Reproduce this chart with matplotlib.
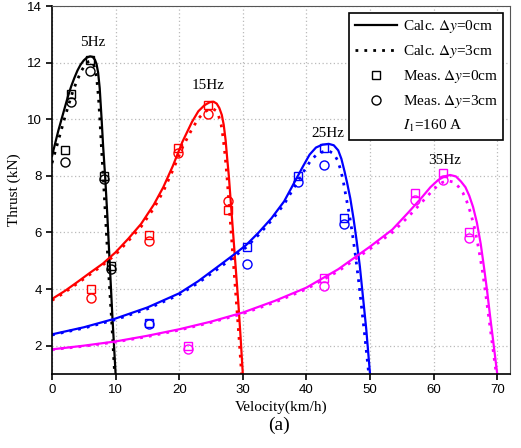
import numpy as np
import matplotlib
matplotlib.use("Agg")
import matplotlib.pyplot as plt
from matplotlib.lines import Line2D

plt.rcParams['font.family'] = ['Liberation Serif', 'DejaVu Serif']
plt.rcParams['mathtext.fontset'] = 'stix'

colors = ['k', '#ff0000', '#0000ff', '#ff00ff']
freq_labels = ['5Hz', '15Hz', '25Hz', '35Hz']
label_pos = [(6.4, 12.7), (24.6, 11.2), (43.3, 9.5), (61.8, 8.55)]

# calculated thrust, dy = 0cm
v_c0 = [
    [0, 0.5, 1, 1.5, 2, 2.5, 3, 3.5, 4, 4.5, 5, 5.5, 6.0, 6.4, 6.75, 7.0, 7.25, 7.5, 7.8,
     8.05, 8.35, 8.7, 9.1, 9.5, 10.0],
    [0, 2, 4, 6, 8, 10, 12, 14, 16, 17.5, 19, 20.5, 22, 23, 24, 24.8, 25.4, 25.9, 26.3,
     26.7, 27.0, 27.3, 27.55, 27.8, 28.3, 28.8, 29.3, 29.65, 30.0],
    [0, 5, 10, 15, 20, 23, 26, 28.5, 30.5, 32.5, 34.5, 36.5, 38.3, 39.5, 40.5, 41.5, 42.5,
     43.5, 44.3, 45.0, 45.5, 46.0, 46.4, 46.9, 47.4, 47.9, 48.4, 48.9, 49.4, 50.0],
    [0, 5, 10, 15, 20, 25, 30, 35, 40, 45, 50, 53.5, 56, 58, 59.5, 60.7, 61.7, 62.6, 63.5,
     64.3, 65.0, 65.6, 66.2, 66.8, 67.4, 67.9, 68.4, 68.9, 69.4, 70.0],
]
t_c0 = [
    [8.7, 9.15, 9.6, 10.0, 10.4, 10.8, 11.15, 11.45, 11.72, 11.93, 12.08, 12.18, 12.22,
     12.2, 12.1, 11.95, 11.65, 11.1, 10.0, 9.0, 8.0, 6.6, 4.8, 3.0, 1.0],
    [3.65, 3.93, 4.25, 4.58, 4.9, 5.3, 5.78, 6.3, 6.98, 7.6, 8.35, 9.2, 9.9, 10.28, 10.5,
     10.6, 10.62, 10.55, 10.4, 10.15, 9.8, 9.25, 8.6, 8.0, 6.5, 5.0, 3.5, 2.3, 1.0],
    [2.4, 2.65, 2.96, 3.35, 3.85, 4.28, 4.78, 5.2, 5.55, 6.0, 6.5, 7.1, 7.85, 8.35, 8.75,
     9.0, 9.1, 9.13, 9.08, 8.9, 8.6, 8.15, 7.75, 7.2, 6.5, 5.7, 4.8, 3.7, 2.6, 1.0],
    [1.87, 2.0, 2.15, 2.35, 2.58, 2.85, 3.17, 3.58, 4.05, 4.7, 5.5, 6.1, 6.7, 7.2, 7.6,
     7.85, 7.98, 8.03, 7.98, 7.8, 7.6, 7.3, 6.9, 6.35, 5.6, 4.8, 3.95, 3.0, 2.1, 1.0],
]

# calculated thrust, dy = 3cm
v_c3 = [
    [0, 0.5, 1, 1.5, 2, 2.6, 3.3, 4.0, 4.6, 5.2, 5.7, 6.1, 6.5, 6.8, 7.05, 7.3, 7.5, 7.75,
     8.05, 8.45, 8.9, 9.4, 9.85],
    [0, 2, 4, 6, 8, 10, 12, 14, 16, 17.5, 19, 20.5, 22, 23, 24, 24.8, 25.3, 25.8, 26.2,
     26.6, 26.9, 27.2, 27.5, 28.0, 28.5, 29.0, 29.4, 29.8],
    [0, 5, 10, 15, 20, 23, 26, 28.5, 30.5, 32.5, 34.5, 36.5, 38.5, 39.7, 40.7, 41.7, 42.7,
     43.6, 44.3, 44.9, 45.4, 45.8, 46.2, 46.7, 47.2, 47.7, 48.2, 48.7, 49.2, 49.8],
    [0, 5, 10, 15, 20, 25, 30, 35, 40, 45, 50, 53.5, 56, 58, 59.5, 60.6, 61.4, 62.2, 63.1,
     63.9, 64.6, 65.2, 65.8, 66.5, 67.1, 67.7, 68.2, 68.7, 69.2, 69.85],
]
t_c3 = [
    [8.45, 8.85, 9.25, 9.65, 10.05, 10.5, 11.0, 11.4, 11.7, 11.92, 12.03, 12.05, 11.95,
     11.75, 11.4, 10.8, 10.1, 9.1, 8.0, 6.4, 4.6, 2.8, 1.0],
    [3.6, 3.88, 4.2, 4.52, 4.85, 5.22, 5.7, 6.2, 6.85, 7.45, 8.2, 9.0, 9.65, 10.02, 10.26,
     10.36, 10.37, 10.3, 10.12, 9.8, 9.35, 8.75, 8.0, 6.5, 5.0, 3.5, 2.3, 1.0],
    [2.38, 2.62, 2.92, 3.3, 3.8, 4.22, 4.7, 5.12, 5.47, 5.92, 6.42, 7.0, 7.75, 8.2, 8.55,
     8.77, 8.86, 8.87, 8.78, 8.55, 8.2, 7.8, 7.3, 6.7, 6.0, 5.2, 4.3, 3.3, 2.3, 1.0],
    [1.86, 1.98, 2.13, 2.32, 2.55, 2.82, 3.13, 3.53, 4.0, 4.63, 5.42, 6.0, 6.55, 7.03,
     7.4, 7.65, 7.77, 7.83, 7.78, 7.62, 7.4, 7.1, 6.7, 6.1, 5.4, 4.6, 3.8, 2.95, 2.1, 1.0],
]

# measured thrust
v_meas = [
    [2.0, 3.0, 6.0, 8.1, 9.2],
    [6.1, 15.3, 19.8, 24.6, 27.6],
    [15.3, 30.6, 38.7, 42.8, 45.9],
    [21.4, 42.8, 57.0, 61.5, 65.5],
]
t_m0 = [
    [8.9, 10.9, 12.1, 8.0, 4.8],
    [4.0, 5.9, 9.0, 10.5, 6.8],
    [2.8, 5.5, 8.0, 9.0, 6.5],
    [2.0, 4.4, 7.4, 8.1, 6.0],
]
t_m3 = [
    [8.5, 10.6, 11.7, 7.9, 4.7],
    [3.7, 5.7, 8.8, 10.2, 7.1],
    [2.75, 4.9, 7.8, 8.4, 6.3],
    [1.9, 4.1, 7.15, 7.85, 5.8],
]

fig = plt.figure(figsize=(5.21, 4.48), dpi=100)
ax = fig.add_axes([0.0998, 0.1652, 0.879, 0.8214])

dots = (0, (1, 2.2))
for i in range(4):
    c = colors[i]
    ax.plot(v_c0[i], t_c0[i], '-', color=c, lw=1.6)
    ax.plot(v_c3[i], t_c3[i], linestyle=dots, color=c, lw=2.0)
    ax.plot(v_meas[i], t_m0[i], 's', mfc='none', mec=c, ms=6, mew=1.0)
    ax.plot(v_meas[i], t_m3[i], 'o', mfc='none', mec=c, ms=6.5, mew=1.0)
    ax.text(label_pos[i][0], label_pos[i][1], freq_labels[i], fontsize=11,
            ha='center', va='center')

ax.set_xlim(0, 72)
ax.set_ylim(1, 14)
ax.set_xticks(range(0, 71, 10))
ax.set_yticks(range(2, 15, 2))
ax.grid(True, color='#bbbbbb', linestyle=(0, (1, 2)), lw=0.9)
ax.spines['top'].set_color('#555555')
ax.spines['right'].set_color('#555555')
for s in ['left', 'bottom']:
    ax.spines[s].set_linewidth(1.2)
ax.tick_params(direction='out', length=4, width=1.2, top=False, right=False,
               labelsize=9.5)
for lab in ax.get_xticklabels() + ax.get_yticklabels():
    lab.set_family('Liberation Sans')

ax.set_xlabel('Velocity(km/h)', fontsize=11, labelpad=3)
ax.set_ylabel('Thrust (kN)', fontsize=11, labelpad=4)
fig.text(0.536, 0.05, '(a)', fontsize=14, ha='center', va='center')

handles = [
    Line2D([], [], color='k', lw=1.6),
    Line2D([], [], color='k', lw=2.0, linestyle=dots),
    Line2D([], [], color='k', marker='s', ls='none', mfc='none', ms=6, mew=1.0),
    Line2D([], [], color='k', marker='o', ls='none', mfc='none', ms=6.5, mew=1.0),
    Line2D([], [], ls='none'),
]
labels = [r'Calc. $\Delta y$=0cm', r'Calc. $\Delta y$=3cm',
          r'Meas. $\Delta y$=0cm', r'Meas. $\Delta y$=3cm', r'$I_1$=160 A']
leg = ax.legend(handles, labels, loc='upper right', fontsize=11,
                handlelength=2.8, handletextpad=0.35, labelspacing=0.52,
                borderpad=0.35, borderaxespad=0, fancybox=False, framealpha=1,
                bbox_to_anchor=(0.985, 0.981))
leg.get_frame().set_edgecolor('k')
leg.get_frame().set_linewidth(1.2)

fig.savefig('out.png', dpi=100)
